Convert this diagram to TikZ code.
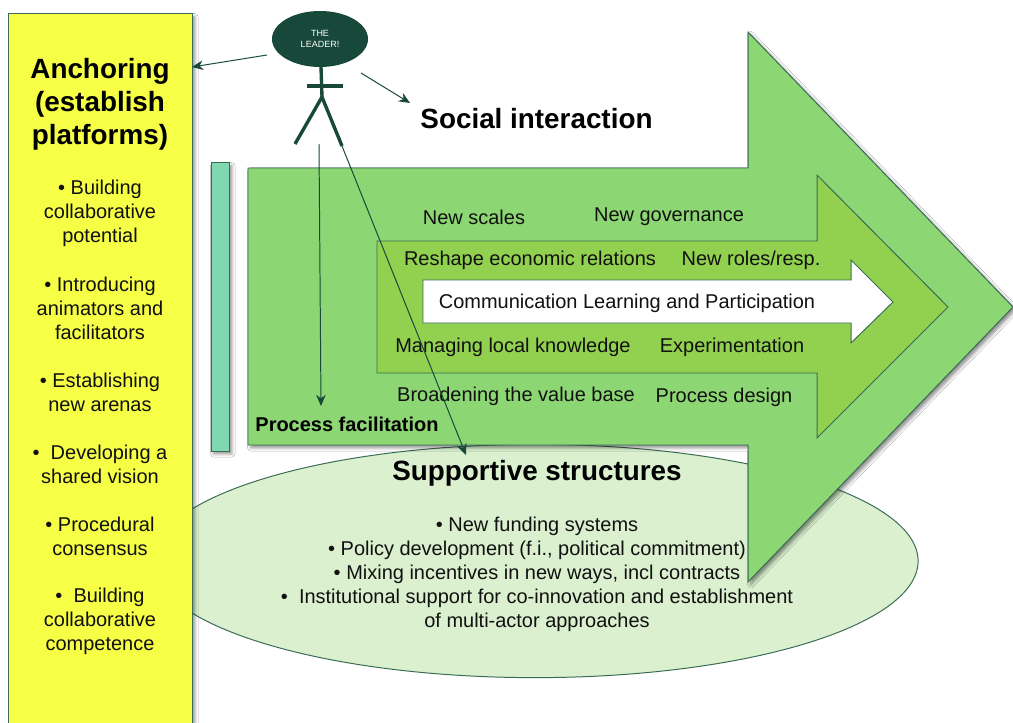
\documentclass[tikz,border=0pt]{standalone}
\usepackage{fontspec}
\setmainfont{Liberation Sans}
\usetikzlibrary{arrows.meta,shapes.geometric,shadows.blur}
\definecolor{edgegreen}{HTML}{3A6B55}
\definecolor{leadergreen}{HTML}{17483A}
\definecolor{panelyellow}{HTML}{F6FF45}
\definecolor{barteal}{HTML}{7FD8B0}
\definecolor{outergreen}{HTML}{8DD674}
\definecolor{innergreen}{HTML}{92D14F}
\definecolor{ovalgreen}{HTML}{DAF0CF}
\definecolor{inktext}{HTML}{111111}
\tikzset{
  softshadow/.style = {blur shadow = {shadow xshift = 0.07cm, shadow yshift = -0.07cm, shadow blur radius = 0.08cm, shadow opacity = 45}},
  shapeline/.style  = {draw = edgegreen, line width = 0.7pt, line join = miter},
  title/.style      = {font = \bfseries\fontsize{19.8}{23.5}\selectfont, align = center, inner sep = 0pt, text = black},
  body/.style       = {font = \fontsize{14.2}{17.07}\selectfont, align = center, inner sep = 0pt, text = inktext},
  pointer/.style    = {draw = leadergreen, line width = 0.7pt, -{Stealth[length = 2.8mm, width = 2.4mm]}},
  limb/.style       = {draw = leadergreen, line width = 2.4pt}
}
\begin{document}
\begin{tikzpicture}[x = 0.025cm, y = -0.025cm]
  \useasboundingbox (0, 0) rectangle (1013, 723);
  \fill[white] (0, 0) rectangle (1013, 723);

  \node[ellipse, shapeline, fill = ovalgreen, minimum width = 19.15cm, minimum height = 5.83cm, inner sep = 0pt] (oval) at (535, 561){};
  \node[shapeline, fill = panelyellow, softshadow, minimum width = 4.575cm, minimum height = 18.15cm, inner sep = 0pt] (anchoring) at (100.5, 377){};
  \node[shapeline, fill = barteal, softshadow, minimum width = 0.45cm, minimum height = 7.2cm, inner sep = 0pt] (bar) at (220, 307){};

  \draw[shapeline, fill = outergreen, softshadow] (248, 168) -- (748, 168) -- (748, 32) -- (1013, 307) -- (748, 582) -- (748, 445) -- (248, 445) -- cycle;
  \draw[shapeline, fill = innergreen] (377, 241) -- (817, 241) -- (817, 175) -- (948, 307) -- (817, 438) -- (817, 373) -- (377, 373) -- cycle;
  \draw[shapeline, fill = white] (423, 280) -- (851, 280) -- (851, 260) -- (893, 302) -- (851, 343) -- (851, 323) -- (423, 323) -- cycle;

  \node[title] (anchortitle) at (100, 104){Anchoring\\(establish\\platforms)};
  \node[body]  (potential)   at (100, 213){• Building\\collaborative\\potential};
  \node[body]  (animators)   at (100, 308){• Introducing\\animators and\\facilitators};
  \node[body]  (arenas)      at (100, 392){• Establishing\\new arenas};
  \node[body]  (vision)      at (100, 464){•~ Developing a\\shared vision};
  \node[body]  (consensus)   at (100, 536){• Procedural\\consensus};
  \node[body]  (competence)  at (100, 621){•~ Building\\collaborative\\competence};

  \node[title] (social)      at (536.5, 119){Social interaction};
  \node[body]  (scales)      at (474, 217){New scales};
  \node[body]  (governance)  at (669, 216.5){New governance};
  \node[body]  (economic)    at (530, 260){Reshape economic relations};
  \node[body]  (roles)       at (751, 260){New roles/resp.};
  \node[body]  (learning)    at (627, 303){Communication Learning and Participation};
  \node[body]  (knowledge)   at (513, 347){Managing local knowledge};
  \node[body]  (experiment)  at (732, 347){Experimentation};
  \node[body]  (value)       at (516, 396){Broadening the value base};
  \node[body]  (design)      at (724, 397){Process design};
  \node[body, font = \bfseries\fontsize{14.2}{17.07}\selectfont, text = black] (facilitation) at (347, 424){Process facilitation};

  \node[title] (supportive)  at (537, 473){Supportive structures};
  \node[body]  (supportlist) at (537, 574){• New funding systems\\• Policy development (f.i., political commitment)\\• Mixing incentives in new ways, incl contracts\\•~ Institutional support for co-innovation and establishment\\of multi-actor approaches};

  \node[ellipse, fill = leadergreen, minimum width = 2.4cm, minimum height = 1.4cm, inner sep = 0pt, align = center, text = white, font = \fontsize{6.4}{8.2}\selectfont] (leader) at (320, 39){THE\\LEADER!};
  \coordinate (neck)      at (321, 67);
  \coordinate (hip)       at (322, 97);
  \coordinate (armleft)   at (307, 86);
  \coordinate (armright)  at (343, 86);
  \coordinate (footleft)  at (295, 144);
  \coordinate (footright) at (342, 146);
  \draw[limb] (neck) -- (hip);
  \draw[limb] (armleft) -- (armright);
  \draw[limb] (hip) -- (footleft);
  \draw[limb] (hip) -- (footright);

  \coordinate (toanchorstart)  at (267, 55);
  \coordinate (toanchorend)    at (192, 67);
  \coordinate (tosocialstart)  at (361, 73);
  \coordinate (tosocialend)    at (410, 103);
  \coordinate (toprocessstart) at (319, 144);
  \coordinate (toprocessend)   at (321, 406);
  \coordinate (tosupportend)   at (466, 455);
  \draw[pointer] (toanchorstart)  -- (toanchorend);
  \draw[pointer] (tosocialstart)  -- (tosocialend);
  \draw[pointer] (toprocessstart) -- (toprocessend);
  \draw[pointer] (footright)      -- (tosupportend);
\end{tikzpicture}
\end{document}
